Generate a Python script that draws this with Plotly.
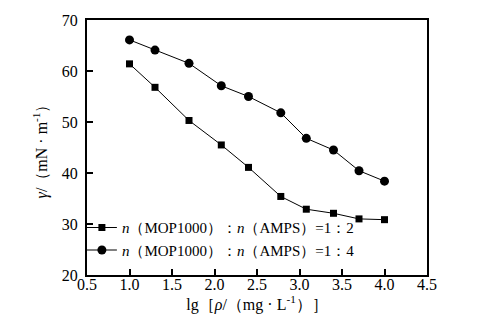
import plotly.graph_objects as go

x_vals = [1.0, 1.3, 1.7, 2.08, 2.4, 2.78, 3.08, 3.4, 3.7, 4.0]
y_ratio_12 = [61.4, 56.8, 50.3, 45.5, 41.1, 35.4, 32.9, 32.1, 31.0, 30.85]
y_ratio_14 = [66.1, 64.1, 61.5, 57.1, 55.0, 51.8, 46.8, 44.5, 40.45, 38.4]
name_12 = "<i>n</i>（MOP1000）：<i>n</i>（AMPS）=1：2"
name_14 = "<i>n</i>（MOP1000）：<i>n</i>（AMPS）=1：4"
x_ticks = [0.5, 1.0, 1.5, 2.0, 2.5, 3.0, 3.5, 4.0, 4.5]
y_ticks = [20, 30, 40, 50, 60, 70]

FONT = "Times New Roman, serif"

fig = go.Figure()
fig.add_trace(go.Scatter(x=x_vals, y=y_ratio_12, mode="lines+markers", name=name_12,
                         line=dict(color="black", width=1),
                         marker=dict(symbol="square", size=7, color="black")))
fig.add_trace(go.Scatter(x=x_vals, y=y_ratio_14, mode="lines+markers", name=name_14,
                         line=dict(color="black", width=1),
                         marker=dict(symbol="circle", size=9, color="black")))

axis_common = dict(showgrid=False, zeroline=False, showline=True, linecolor="black",
                   linewidth=2, mirror=True, ticks="inside", ticklen=6, tickwidth=1.5,
                   tickcolor="black", tickfont=dict(family=FONT, size=16, color="black"))

fig.update_layout(
    width=481, height=332,
    margin=dict(l=87, r=54, t=20, b=57),
    paper_bgcolor="white", plot_bgcolor="white",
    font=dict(family=FONT, size=16, color="black"),
    xaxis=dict(range=[0.5, 4.5], tickvals=x_ticks, ticktext=[f"{v:.1f}" for v in x_ticks],
               ticklabelstandoff=-6,
               title=dict(text="lg［<i>ρ</i>/（mg · L<sup>-1</sup>）］", standoff=4,
                          font=dict(family=FONT, size=16)), **axis_common),
    yaxis=dict(range=[20, 70], tickvals=y_ticks, ticklabelstandoff=4,
               title=dict(text="<i>γ</i>/（mN · m<sup>-1</sup>）", standoff=10,
                          font=dict(family=FONT, size=16)), **axis_common),
    showlegend=True,
    legend=dict(x=-0.015, y=0.25, xanchor="left", yanchor="top",
                bgcolor="rgba(0,0,0,0)", font=dict(family=FONT, size=15),
                tracegroupgap=0, itemwidth=30),
)

fig.write_html("out.html")
